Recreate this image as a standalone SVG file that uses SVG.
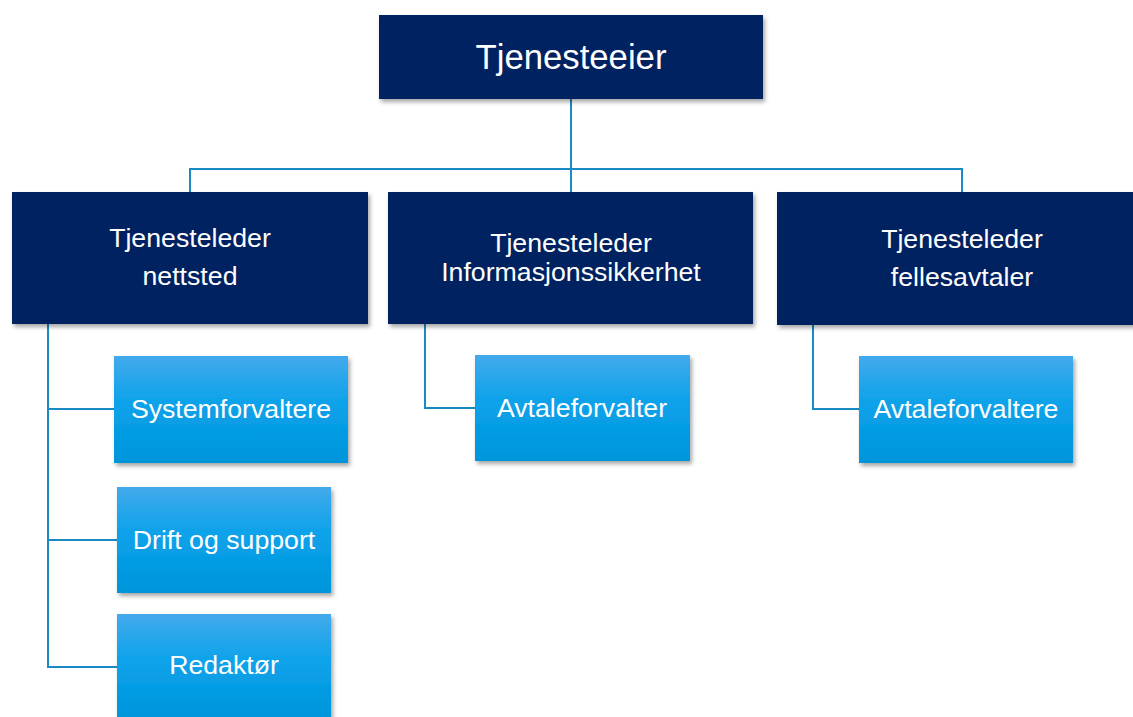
<svg xmlns="http://www.w3.org/2000/svg" width="1133" height="717" viewBox="0 0 1133 717">
<defs>
<linearGradient id="lb" x1="0" y1="0" x2="0" y2="1">
<stop offset="0" stop-color="#43aaec"/>
<stop offset="0.45" stop-color="#0aa2ea"/>
<stop offset="1" stop-color="#0095db"/>
</linearGradient>
<filter id="sh" x="-10%" y="-10%" width="125%" height="130%">
<feDropShadow dx="2" dy="3" stdDeviation="2" flood-color="#000" flood-opacity="0.35"/>
</filter>
<style>
.dark{fill:#002060;filter:url(#sh)}
.light{fill:url(#lb);filter:url(#sh)}
.t{font-family:"Liberation Sans",Arial,sans-serif;fill:#fff;text-anchor:middle;font-size:26.7px}
.big{font-size:34.7px}
.c{fill:none;stroke:#1a8ac4;stroke-width:2}
</style>
</defs>
<rect width="1133" height="717" fill="#fff"/>
<g id="connectors">
<path class="c" d="M571 99V169M190 192V169H962V192M571 169V192"/>
<path class="c" d="M48 324V667H117M48 409H114M48 540H117"/>
<path class="c" d="M425 324V408H475"/>
<path class="c" d="M813 325V409H859"/>
</g>
<g id="tjenesteeier">
<rect class="dark" x="379" y="15" width="384" height="84"/>
<text class="t big" x="571" y="69">Tjenesteeier</text>
</g>
<g id="leder-nettsted">
<rect class="dark" x="12" y="192" width="356" height="132"/>
<text class="t" x="190" y="247">Tjenesteleder</text>
<text class="t" x="190" y="285">nettsted</text>
</g>
<g id="leder-infosik">
<rect class="dark" x="388" y="192" width="365" height="132"/>
<text class="t" x="571" y="252">Tjenesteleder</text>
<text class="t" x="571" y="281">Informasjonssikkerhet</text>
</g>
<g id="leder-felles">
<rect class="dark" x="777" y="192" width="360" height="133"/>
<text class="t" x="962" y="248">Tjenesteleder</text>
<text class="t" x="962" y="286">fellesavtaler</text>
</g>
<g id="systemforvaltere">
<rect class="light" x="114" y="356" width="234" height="107"/>
<text class="t" x="231" y="418">Systemforvaltere</text>
</g>
<g id="drift">
<rect class="light" x="117" y="487" width="214" height="106"/>
<text class="t" x="224" y="549">Drift og support</text>
</g>
<g id="redaktor">
<rect class="light" x="117" y="614" width="214" height="108"/>
<text class="t" x="224" y="674">Redaktør</text>
</g>
<g id="avtaleforvalter">
<rect class="light" x="475" y="355" width="215" height="106"/>
<text class="t" x="582" y="417">Avtaleforvalter</text>
</g>
<g id="avtaleforvaltere">
<rect class="light" x="859" y="356" width="214" height="107"/>
<text class="t" x="966" y="418">Avtaleforvaltere</text>
</g>
</svg>
